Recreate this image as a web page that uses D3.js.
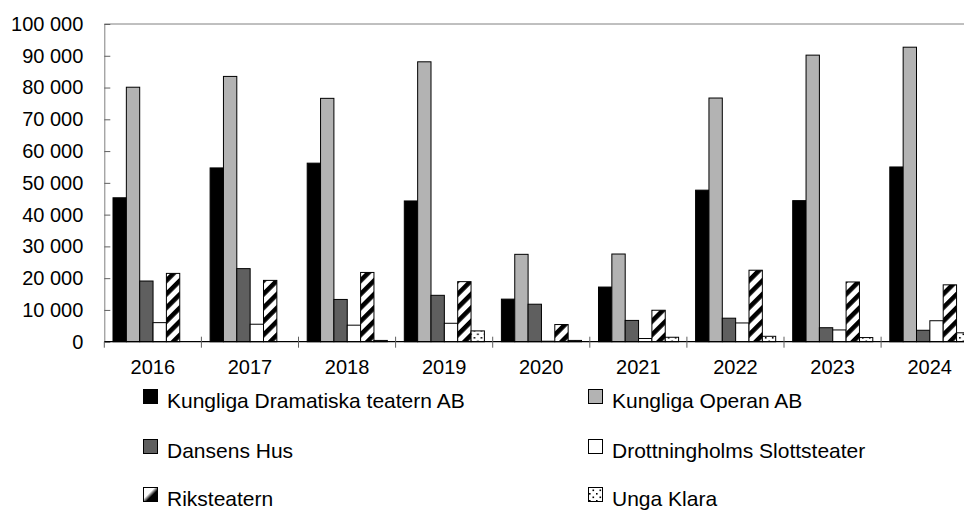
<!DOCTYPE html>
<html>
<head>
<meta charset="utf-8">
<script src="https://cdn.jsdelivr.net/npm/d3@7"></script>
<style>
  body { margin: 0; background: #fff; }
  svg { display: block; font-family: "Liberation Sans", Arial, sans-serif; }
</style>
</head>
<body>
<script>
const years = ["2016", "2017", "2018", "2019", "2020", "2021", "2022", "2023", "2024"];
const seriesNames = ["Kungliga Dramatiska teatern AB", "Kungliga Operan AB", "Dansens Hus",
                     "Drottningholms Slottsteater", "Riksteatern", "Unga Klara"];
const dramaten      = [45300, 54700, 56200, 44300, 13400, 17200, 47700, 44400, 55000];
const operan        = [80100, 83500, 76600, 88100, 27500, 27600, 76700, 90200, 92700];
const dansensHus    = [19100, 23000, 13300, 14600, 11800,  6700,  7400,  4400,  3600];
const drottningholm = [ 6000,  5500,  5200,  5800,   150,  1000,  5900,  3700,  6600];
const riksteatern   = [21500, 19300, 21800, 18900,  5400,  9900, 22500, 18800, 17900];
const ungaKlara     = [    0,     0,   400,  3400,   400,  1400,  1700,  1300,  2800];
const yTicks = [0, 10000, 20000, 30000, 40000, 50000, 60000, 70000, 80000, 90000, 100000];

const values = [dramaten, operan, dansensHus, drottningholm, riksteatern, ungaKlara];
const fills = ["#000", "#b3b3b3", "#5f5f5f", "#fff", "url(#stripes)", "url(#dots)"];
const legendFills = ["#000", "#b3b3b3", "#5f5f5f", "#fff", "url(#diag)", "url(#dots)"];

const w = 964, h = 511;
const plotLeft = 104.3, plotRight = 978.2, plotTop = 24, plotBottom = 341.7;

const svg = d3.select("body").append("svg")
    .attr("width", w)
    .attr("height", h);

// patterns
const defs = svg.append("defs");
const stripes = defs.append("pattern")
    .attr("id", "stripes")
    .attr("patternUnits", "userSpaceOnUse")
    .attr("width", 9.6).attr("height", 9.6)
    .attr("patternTransform", "rotate(45)");
stripes.append("rect").attr("width", 9.6).attr("height", 9.6).attr("fill", "#fff");
stripes.append("rect").attr("width", 4.6).attr("height", 9.6).attr("fill", "#000");

const dots = defs.append("pattern")
    .attr("id", "dots")
    .attr("patternUnits", "userSpaceOnUse")
    .attr("width", 7).attr("height", 7);
dots.append("rect").attr("width", 7).attr("height", 7).attr("fill", "#fff");
dots.append("rect").attr("x", 1).attr("y", 1).attr("width", 1.6).attr("height", 1.6).attr("fill", "#000");
dots.append("rect").attr("x", 4.5).attr("y", 4.5).attr("width", 1.6).attr("height", 1.6).attr("fill", "#000");

// legend swatch for Riksteatern: single diagonal split
const diag = defs.append("linearGradient")
    .attr("id", "diag")
    .attr("x1", 0).attr("y1", 0).attr("x2", 1).attr("y2", 1);
diag.append("stop").attr("offset", "0.4").attr("stop-color", "#fff");
diag.append("stop").attr("offset", "0.6").attr("stop-color", "#000");

const x = d3.scaleBand().domain(years).range([plotLeft, plotRight]);
const xs = d3.scaleBand().domain(d3.range(seriesNames.length)).range([8.7, 88.8]);
const y = d3.scaleLinear().domain([0, 100000]).range([plotBottom, plotTop]);

// frame (top border)
svg.append("line")
    .attr("x1", plotLeft).attr("x2", plotRight)
    .attr("y1", plotTop).attr("y2", plotTop)
    .attr("stroke", "#808080").attr("stroke-width", 1);

// y axis
const yAxis = svg.append("g")
    .attr("transform", `translate(${plotLeft},0)`)
    .call(d3.axisLeft(y)
        .tickValues(yTicks)
        .tickSizeInner(-6)
        .tickSizeOuter(0)
        .tickPadding(21)
        .tickFormat(d => d3.format(",")(d).replace(/,/g, " ")));
yAxis.select(".domain").attr("stroke", "#808080");
yAxis.selectAll(".tick line").attr("stroke", "#606060");
yAxis.selectAll("text").attr("font-size", 20).attr("fill", "#000")
    .attr("font-family", "'Liberation Sans', Arial, sans-serif");

// bars
const groups = svg.selectAll("g.year")
    .data(years)
    .enter()
    .append("g")
    .attr("class", "year")
    .attr("transform", d => `translate(${x(d)},0)`);

groups.selectAll("rect")
    .data((d, i) => values.map((s, k) => ({ k: k, v: s[i] })))
    .enter()
    .append("rect")
    .attr("x", d => xs(d.k))
    .attr("y", d => y(d.v))
    .attr("width", xs.bandwidth())
    .attr("height", d => y(0) - y(d.v))
    .attr("fill", d => fills[d.k])
    .attr("stroke", "#000")
    .attr("stroke-width", 1);

// x axis
svg.append("line")
    .attr("x1", plotLeft).attr("x2", plotRight)
    .attr("y1", plotBottom).attr("y2", plotBottom)
    .attr("stroke", "#000").attr("stroke-width", 1.2);

const bounds = years.map(d => x(d)).concat([x(years[years.length - 1]) + x.bandwidth()]);
svg.selectAll("line.xtick")
    .data(bounds)
    .enter()
    .append("line")
    .attr("class", "xtick")
    .attr("x1", d => d).attr("x2", d => d)
    .attr("y1", (d, i) => i === 0 ? plotBottom : plotBottom - 5)
    .attr("y2", plotBottom + 6)
    .attr("stroke", "#606060");

svg.selectAll("text.xlab")
    .data(years)
    .enter()
    .append("text")
    .attr("class", "xlab")
    .attr("x", d => x(d) + x.bandwidth() / 2)
    .attr("y", 374.3)
    .attr("text-anchor", "middle")
    .attr("font-size", 20)
    .text(d => d);

// legend
const legendCols = [143, 588];
const legendRows = [408, 458, 506];
const legend = svg.selectAll("g.legend")
    .data(seriesNames)
    .enter()
    .append("g")
    .attr("class", "legend")
    .attr("transform", (d, i) => `translate(${legendCols[i % 2]},${legendRows[Math.floor(i / 2)]})`);

legend.append("rect")
    .attr("x", 0.5).attr("y", -18.5)
    .attr("width", 14).attr("height", 14)
    .attr("fill", (d, i) => legendFills[i])
    .attr("stroke", "#000")
    .attr("stroke-width", 1);

legend.append("text")
    .attr("x", 24)
    .attr("y", 0)
    .attr("font-size", 21)
    .text(d => d);
</script>
</body>
</html>
